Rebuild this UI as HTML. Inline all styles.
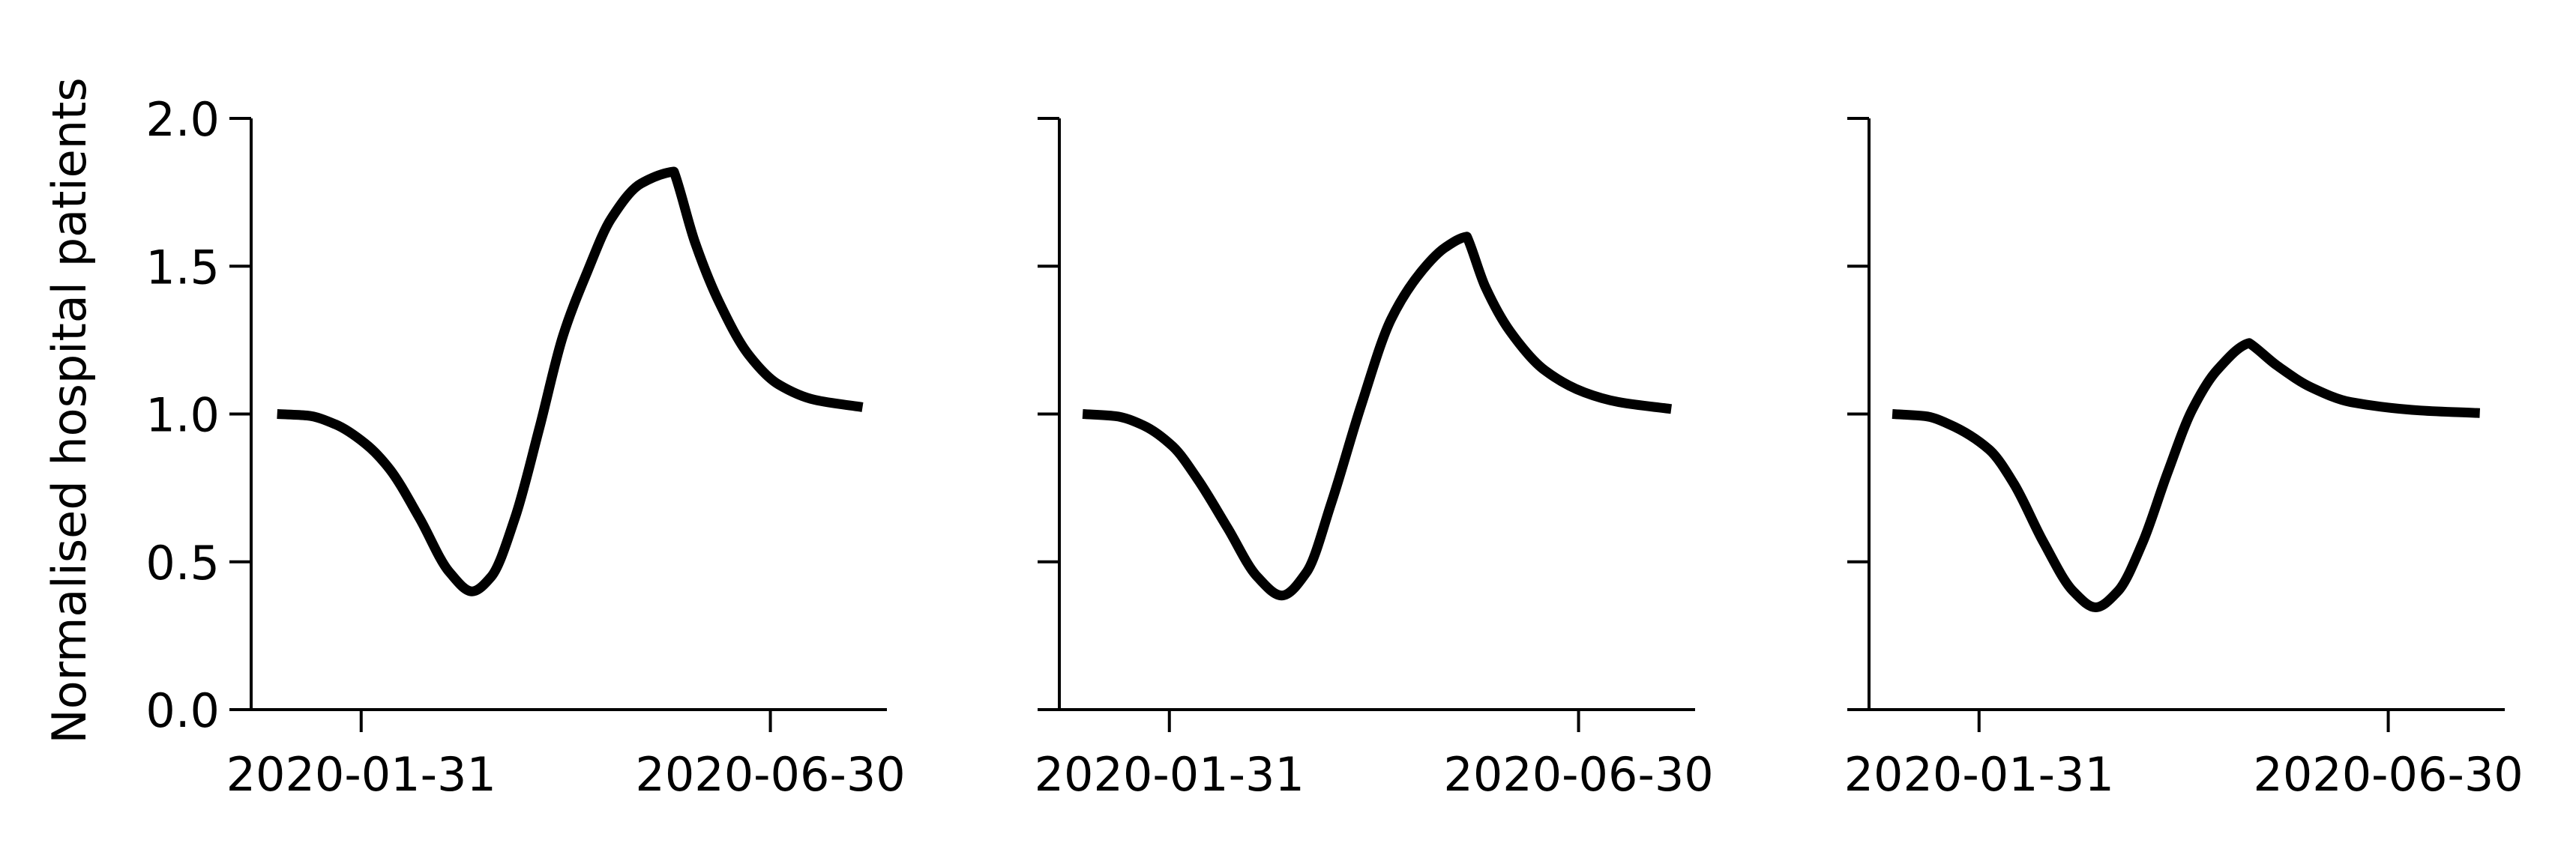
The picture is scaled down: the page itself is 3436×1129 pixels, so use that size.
<!DOCTYPE html>
<html><head><meta charset="utf-8"><style>
html,body{margin:0;padding:0;background:#fff;}
svg{display:block;}
text{font-family:"DejaVu Sans","Liberation Sans",sans-serif;font-size:62px;fill:#000;}
</style></head><body>
<svg id="chart" width="3436" height="1129" viewBox="0 0 3436 1129" xmlns="http://www.w3.org/2000/svg">
<text transform="translate(114,548) rotate(-90)" text-anchor="middle">Normalised hospital patients</text>
</svg>
<script>
// Day offsets relative to 2020-01-31
const days1 = [-31,-20,-9.5,1.5,10.4,21.4,32.5,40.9,48,56.8,65.7,74.5,83.4,92.2,103.3,115.4,123.2,132,143,154,167.4,185];
const vals1 = [1.0,0.995,0.965,0.90,0.815,0.65,0.466,0.40,0.45,0.65,0.95,1.265,1.48,1.66,1.78,1.82,1.58,1.38,1.20,1.10,1.048,1.023];
const days2 = [-32,-20,-9.7,1.3,10.4,21.4,32.4,41.5,50.7,59.8,70.8,81.8,92.8,101.9,109.8,116.6,125.7,138.5,153.2,166,185.2];
const vals2 = [1.0,0.993,0.962,0.89,0.78,0.616,0.45,0.386,0.466,0.70,1.03,1.32,1.48,1.564,1.60,1.43,1.28,1.148,1.073,1.04,1.017];
const days3 = [-32,-20,-11,3.7,12.8,23.8,34.8,43,51.2,60.4,69.5,78.7,87.8,99.7,109.8,122.6,137.3,162.9,184.8];
const vals3 = [1.0,0.993,0.965,0.88,0.765,0.566,0.40,0.346,0.40,0.566,0.80,1.015,1.148,1.24,1.165,1.09,1.04,1.012,1.003];
const yTicks = [0,0.5,1.0,1.5,2.0];
const yTickLabels = ["0.0","0.5","1.0","1.5","2.0"];
const xTickDays = [0,151];
const xTickLabels = ["2020-01-31","2020-06-30"];

const NS = "http://www.w3.org/2000/svg";
const svgEl = document.getElementById('chart');
const panelLefts = [335,1413,2493];
const panelW = 848, plotTop = 158, plotBottom = 947;
const series = [[days1,vals1],[days2,vals2],[days3,vals3]];
const dayMin = -40.6, dayMax = 194;
function mk(tag, attrs){const e=document.createElementNS(NS,tag);for(const k in attrs)e.setAttribute(k,attrs[k]);svgEl.appendChild(e);return e;}

// monotone cubic (Fritsch-Carlson) path, with a corner at the maximum
function monoPath(pts){
  const n = pts.length;
  let peak = 0; for(let k=1;k<n;k++) if(pts[k][1]<pts[peak][1]) peak=k;
  const dl=[], m=[];
  for(let k=0;k<n-1;k++) dl.push((pts[k+1][1]-pts[k][1])/(pts[k+1][0]-pts[k][0]));
  const mL=[], mR=[];
  for(let k=0;k<n;k++){
    let t;
    if(k===0) t=dl[0]; else if(k===n-1) t=dl[n-2];
    else if(dl[k-1]*dl[k]<=0) t=0;
    else { t = 2/(1/dl[k-1]+1/dl[k]); }
    mL.push(t); mR.push(t);
  }
  mL[peak]=dl[peak-1]*0.3; mR[peak]=dl[peak]*0.8;
  let p='M'+pts[0][0].toFixed(1)+','+pts[0][1].toFixed(1);
  for(let k=0;k<n-1;k++){
    const h=pts[k+1][0]-pts[k][0];
    const c1=[pts[k][0]+h/3, pts[k][1]+mR[k]*h/3];
    const c2=[pts[k+1][0]-h/3, pts[k+1][1]-mL[k+1]*h/3];
    p+=' C'+c1[0].toFixed(1)+','+c1[1].toFixed(1)+' '+c2[0].toFixed(1)+','+c2[1].toFixed(1)+' '+pts[k+1][0].toFixed(1)+','+pts[k+1][1].toFixed(1);
  }
  return p;
}

series.forEach(([d,v],i)=>{
  const L = panelLefts[i];
  const xs = t => L + (t-dayMin)/(dayMax-dayMin)*panelW;
  const ys = val => plotBottom - val/2*(plotBottom-plotTop);
  const ya = mk('line',{x1:L,y1:plotTop,x2:L,y2:plotBottom+2,stroke:'#000','stroke-width':4});
  
  
  const xa = mk('line',{x1:L-2,y1:plotBottom,x2:L+panelW,y2:plotBottom,stroke:'#000','stroke-width':4});
  
  
  yTicks.forEach((t,j)=>{
    const y = ys(t);
    const tk = mk('line',{x1:L-29,y1:y,x2:L,y2:y,stroke:'#000','stroke-width':4});
    
    
    if(i===0){
      const tx = mk('text',{x:L-42,y:y+23,'text-anchor':'end'});
      tx.textContent = yTickLabels[j];
      
      
    }
  });
  xTickDays.forEach((t,j)=>{
    const x = xs(t);
    const tk = mk('line',{x1:x,y1:plotBottom,x2:x,y2:plotBottom+30,stroke:'#000','stroke-width':4});
    
    
    const tx = mk('text',{x:x,y:1055,'text-anchor':'middle'});
    tx.textContent = xTickLabels[j];
    
    
  });
  const pts = d.map((t,k)=>[xs(t),ys(v[k])]);
  const line = mk('path',{d:monoPath(pts),fill:'none',stroke:'#000','stroke-width':13,'stroke-linejoin':'round'});
  
  
});
</script>
</body></html>
